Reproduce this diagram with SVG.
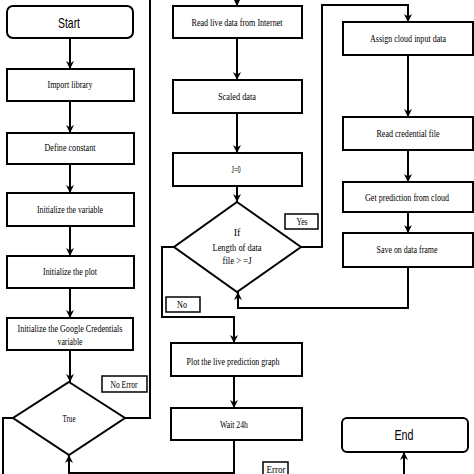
<svg xmlns="http://www.w3.org/2000/svg" width="474" height="474" viewBox="0 0 474 474">
<defs>
<marker id="arr" markerUnits="userSpaceOnUse" viewBox="0 0 10 10" refX="10" refY="5" markerWidth="8" markerHeight="8" orient="auto">
<path d="M0,0 L10,5 L0,10 L3,5 z" fill="#000"/>
</marker>
<style>
.box{fill:#fff;stroke:#000;stroke-width:2}
.lbl{fill:#fff;stroke:#000;stroke-width:1.5}
.t{font-family:"Liberation Serif","Times New Roman",serif;font-size:10px;text-anchor:middle;fill:#000}
.s{font-family:"Liberation Sans",Arial,sans-serif;font-size:15px;text-anchor:middle;fill:#000}
.c{fill:none;stroke:#000;stroke-width:2}
.a{marker-end:url(#arr)}
</style>
</defs>
<rect width="474" height="474" fill="#fff"/>
<g id="connectors">
<path class="c a" d="M70,38 V69"/>
<path class="c a" d="M70,101 V133"/>
<path class="c a" d="M70,164 V193"/>
<path class="c a" d="M70,226 V256"/>
<path class="c a" d="M70,288 V318"/>
<path class="c a" d="M70,350 V382"/>
<path class="c a" d="M125,418 H150 V-5 H237 V6"/>
<path class="c" d="M13,418 H3 V478"/>
<path class="c a" d="M237,38 V80"/>
<path class="c a" d="M237,113 V153"/>
<path class="c a" d="M237,186 V202"/>
<path class="c a" d="M301,247 H322 V5 H408 V22"/>
<path class="c a" d="M408,55 V117"/>
<path class="c a" d="M408,150 V182"/>
<path class="c a" d="M408,212 V233"/>
<path class="c a" d="M408,267 V308 H238 V292"/>
<path class="c a" d="M174,247 H162 V317 H234 V343"/>
<path class="c a" d="M234,376 V408"/>
<path class="c a" d="M234,440 V473 H69 V455"/>
<path class="c a" d="M404,478 V452"/>
</g>
<g id="start"><rect class="box" x="7" y="6" width="126" height="32" rx="6"/><text class="s" x="69" y="28" textLength="22" lengthAdjust="spacingAndGlyphs">Start</text></g>
<g id="import"><rect class="box" x="7" y="69" width="127" height="32"/><text class="t" x="70" y="88" textLength="45" lengthAdjust="spacingAndGlyphs">Import library</text></g>
<g id="define"><rect class="box" x="7" y="133" width="127" height="31"/><text class="t" x="70" y="151" textLength="51" lengthAdjust="spacingAndGlyphs">Define constant</text></g>
<g id="initvar"><rect class="box" x="7" y="193" width="127" height="33"/><text class="t" x="70" y="213" textLength="66" lengthAdjust="spacingAndGlyphs">Initialize the variable</text></g>
<g id="initplot"><rect class="box" x="7" y="256" width="127" height="32"/><text class="t" x="70" y="275" textLength="54" lengthAdjust="spacingAndGlyphs">Initialize the plot</text></g>
<g id="initgoogle"><rect class="box" x="7" y="318" width="126" height="32"/><text class="t" x="70" y="332" textLength="105" lengthAdjust="spacingAndGlyphs">Initialize the Google Credentials</text><text class="t" x="70" y="345" textLength="25" lengthAdjust="spacingAndGlyphs">variable</text></g>
<g id="true"><polygon class="box" points="69,382 125,418 69,455 13,418"/><text class="t" x="69" y="422" textLength="13" lengthAdjust="spacingAndGlyphs">True</text></g>
<g id="noerror"><rect class="lbl" x="102" y="376" width="45" height="16"/><text class="t" x="124" y="388" font-size="9" textLength="27" lengthAdjust="spacingAndGlyphs">No Error</text></g>
<g id="readlive"><rect class="box" x="173" y="6" width="129" height="32"/><text class="t" x="237" y="26" textLength="91" lengthAdjust="spacingAndGlyphs">Read live data from Internet</text></g>
<g id="scaled"><rect class="box" x="173" y="80" width="129" height="33"/><text class="t" x="237" y="100" textLength="38" lengthAdjust="spacingAndGlyphs">Scaled data</text></g>
<g id="j0"><rect class="box" x="173" y="153" width="129" height="33"/><text class="t" x="236" y="173" textLength="9" lengthAdjust="spacingAndGlyphs">J=0</text></g>
<g id="ifdiamond"><polygon class="box" points="237,202 301,247 237,292 174,247"/><text class="t" x="237" y="236">If</text><text class="t" x="237" y="251" textLength="49" lengthAdjust="spacingAndGlyphs">Length of data</text><text class="t" x="237" y="264" textLength="29" lengthAdjust="spacingAndGlyphs">file &gt; =J</text></g>
<g id="yes"><rect class="lbl" x="285" y="214" width="33" height="15"/><text class="t" x="302" y="225" font-size="9" textLength="11" lengthAdjust="spacingAndGlyphs">Yes</text></g>
<g id="no"><rect class="lbl" x="166" y="297" width="34" height="15"/><text class="t" x="182" y="308" font-size="9" textLength="10" lengthAdjust="spacingAndGlyphs">No</text></g>
<g id="plotlive"><rect class="box" x="171" y="343" width="131" height="33"/><text class="t" x="233" y="365" textLength="93" lengthAdjust="spacingAndGlyphs">Plot the live prediction graph</text></g>
<g id="wait"><rect class="box" x="171" y="408" width="131" height="32"/><text class="t" x="234" y="428" textLength="28" lengthAdjust="spacingAndGlyphs">Wait 24h</text></g>
<g id="error"><rect class="lbl" x="263" y="462" width="25" height="16"/><text class="t" x="276" y="473" font-size="9" textLength="19" lengthAdjust="spacingAndGlyphs">Error</text></g>
<g id="assign"><rect class="box" x="343" y="22" width="130" height="33"/><text class="t" x="408" y="42" textLength="76" lengthAdjust="spacingAndGlyphs">Assign cloud input data</text></g>
<g id="readcred"><rect class="box" x="343" y="117" width="130" height="33"/><text class="t" x="408" y="137" textLength="63" lengthAdjust="spacingAndGlyphs">Read credential file</text></g>
<g id="getpred"><rect class="box" x="343" y="182" width="130" height="30"/><text class="t" x="407" y="201" textLength="84" lengthAdjust="spacingAndGlyphs">Get prediction from cloud</text></g>
<g id="save"><rect class="box" x="343" y="233" width="130" height="34"/><text class="t" x="407" y="253" textLength="61" lengthAdjust="spacingAndGlyphs">Save on data frame</text></g>
<g id="end"><rect class="box" x="342" y="418" width="126" height="34" rx="5"/><text class="s" x="404" y="440" textLength="19" lengthAdjust="spacingAndGlyphs">End</text></g>
</svg>
